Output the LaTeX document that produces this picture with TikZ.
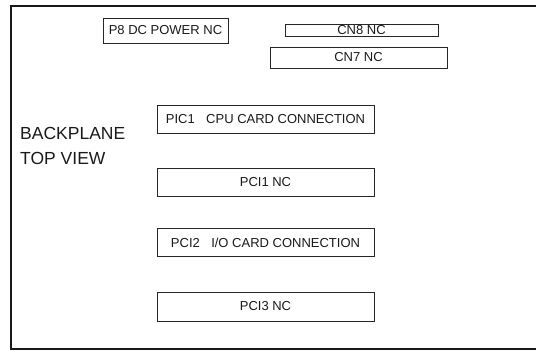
\documentclass[tikz,border=0pt]{standalone}
\usepackage{fontspec}
\setmainfont{Liberation Sans}
\tikzset{
  slot/.style={draw=black!85, line width=0.8pt, inner sep=0pt, font=\fontsize{13}{15}\selectfont, text=black!90},
  heading/.style={align=left, anchor=north west, inner sep=0pt, font=\fontsize{17.5}{25}\selectfont, text=black!90},
  frameline/.style={draw=black!90, line width=1.6pt}
}
\begin{document}
\begin{tikzpicture}[x=1pt,y=-1pt]
\useasboundingbox (0,0) rectangle (536,353);
\coordinate (tr) at (537,6);
\coordinate (tl) at (11,6);
\coordinate (bl) at (11,349);
\coordinate (br) at (537,349);
\draw[frameline] (tr) -- (tl) -- (bl) -- (br);
\node[slot, minimum width=125pt, minimum height=25pt] (p8) at (165.5,30.5) {P8 DC POWER NC};
\node[slot, minimum width=153pt, minimum height=12.5pt] (cn8) at (361.5,30.3) {CN8 NC};
\node[slot, minimum width=177pt, minimum height=21pt] (cn7) at (358.5,57.5) {CN7 NC};
\node[slot, minimum width=217pt, minimum height=28pt] (pic1) at (265.5,119) {PIC1\hspace{0.6em}\ CPU CARD CONNECTION};
\node[slot, minimum width=217pt, minimum height=28pt] (pci1) at (265.5,182) {PCI1 NC};
\node[slot, minimum width=217pt, minimum height=28.5pt] (pci2) at (265.5,242.5) {PCI2\hspace{0.6em}\ I/O CARD CONNECTION};
\node[slot, minimum width=217pt, minimum height=29pt] (pci3) at (265.5,306.5) {PCI3 NC};
\node[heading] (title) at (20,127.5) {BACKPLANE\\TOP VIEW};
\end{tikzpicture}
\end{document}
